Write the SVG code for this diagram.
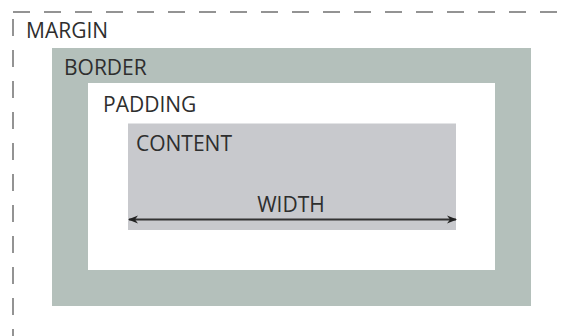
<svg xmlns="http://www.w3.org/2000/svg" width="562" height="336" viewBox="0 0 562 336">
<style>
.lbl{font-family:"Open Sans","DejaVu Sans",sans-serif;font-size:21px;fill:#2e2e2e;}
.dash{stroke:#707070;stroke-width:1.5;stroke-dasharray:17 14;fill:none;}
</style>
<defs>
<marker id="ah" viewBox="0 0 10 10" refX="9" refY="5" markerWidth="5" markerHeight="5" orient="auto-start-reverse">
<path d="M0,1 L10,5 L0,9 L3,5 Z" fill="#222"/>
</marker>
</defs>
<rect width="562" height="336" fill="#fff"/>
<g id="margin">
<path class="dash" d="M13,12 H562"/>
<path class="dash" d="M13,19 V336"/>
<text class="lbl" x="26" y="38">MARGIN</text>
</g>
<g id="border">
<rect x="52" y="48" width="479" height="258" fill="#b4c0bb"/>
<text class="lbl" x="64" y="75">BORDER</text>
</g>
<g id="padding">
<rect x="88" y="83" width="407" height="187" fill="#fff"/>
<text class="lbl" x="103" y="111.5">PADDING</text>
</g>
<g id="content">
<rect x="128" y="123.5" width="328" height="106.5" fill="#c8c9cd"/>
<text class="lbl" x="136" y="151">CONTENT</text>
</g>
<g id="connectors">
<line x1="129" y1="219.5" x2="456" y2="219.5" stroke="#333" stroke-width="2" marker-start="url(#ah)" marker-end="url(#ah)"/>
<text class="lbl" x="291" y="211.5" text-anchor="middle">WIDTH</text>
</g>
</svg>
